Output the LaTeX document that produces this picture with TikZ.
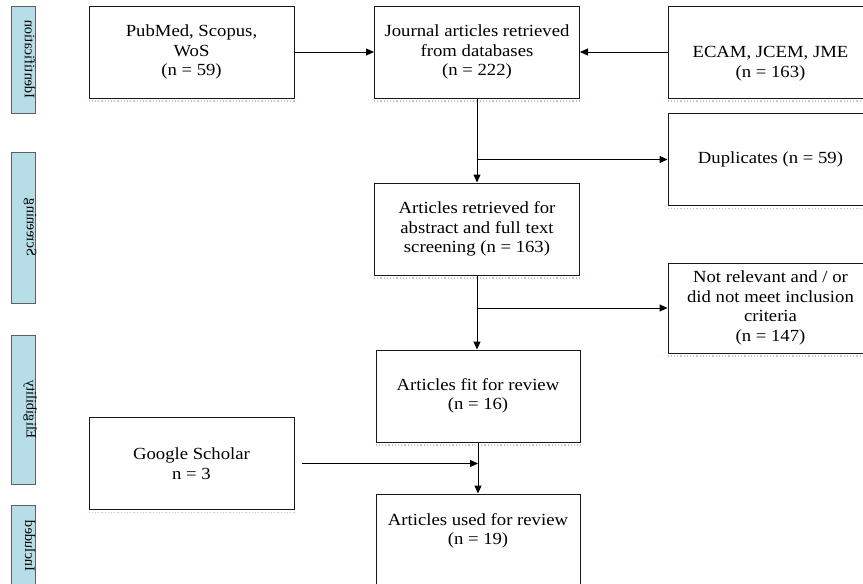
\documentclass[tikz,border=0pt]{standalone}
\usepackage{fontspec}
\setmainfont[FakeStretch=1.1]{Liberation Serif}
\newfontfamily\barfont{Liberation Serif}
\usetikzlibrary{arrows.meta}
\definecolor{barblue}{RGB}{183,222,232}
\definecolor{bargray}{RGB}{95,95,95}
\definecolor{shadowblue}{RGB}{175,205,235}
\begin{document}
\begin{tikzpicture}[x=1pt,y=-1pt,
  box/.style={draw=black!90, line width=1pt, fill=white, minimum width=205pt, minimum height=92pt, align=center, inner sep=2pt, font=\fontsize{17}{19.5}\selectfont},
  bar/.style={draw=bargray, line width=1pt, fill=barblue, minimum width=24pt, inner sep=0pt},
  bartext/.style={xscale=-1, rotate=90, font=\barfont\fontsize{14.5}{16}\selectfont, inner sep=0pt},
  conn/.style={line width=1pt},
  arr/.style={conn, -{Triangle[length=8pt,width=7pt]}},
  shadowline/.style={shadowblue, line width=1.2pt, dotted}
]
\useasboundingbox (0,0) rectangle (863,584);

% stage bars
\node[bar, minimum height=107pt] (b1) at (23,59.5) {};
\node[bar, minimum height=151pt] (b2) at (23,227.5) {};
\node[bar, minimum height=149pt] (b3) at (23,409.5) {};
\node[bar, minimum height=95pt] (b4) at (23,552.5) {};
\node[bartext] (t1) at (30,59.5) {Identification};
\node[bartext] (t2) at (30,227.5) {Screening};
\node[bartext] (t3) at (30,409.5) {Eligibility};
\node[bartext] (t4) at (30,546) {Included};

% boxes
\node[box] (pub) at (191.5,52) {PubMed, Scopus,\\WoS\\(n = 59)};
\node[box] (jour) at (477,52) {Journal articles retrieved\\from databases\\(n = 222)};
\node[box] (ecam) at (770.5,52) {\rule{0pt}{35pt}ECAM, JCEM, JME\\(n = 163)};
\node[box] (dup) at (770.5,159.5) {Duplicates (n = 59)};
\node[box] (scr) at (477,229) {Articles retrieved for\\abstract and full text\\screening (n = 163)};
\node[box, minimum height=90pt] (nrel) at (770.5,308) {Not relevant and / or\\did not meet inclusion\\criteria\\(n = 147)};
\node[box, minimum width=204pt] (fit) at (478,396) {Articles fit for review\\(n = 16)};
\node[box] (gs) at (191.5,463.5) {Google Scholar\\n = 3};
\node[box, minimum width=204pt] (used) at (478,540) {Articles used for review\\(n = 19)\rule[-22pt]{0pt}{0pt}};

% faint shadows
\foreach \n in {pub,jour,ecam,dup,scr,nrel,fit,gs}
  \draw[shadowline] ([yshift=-2.5pt]\n.south west) -- ([yshift=-2.5pt]\n.south east);

% connectors
\draw[arr] (pub.east) -- (jour.west);
\draw[arr] (ecam.west) -- (jour.east);
\coordinate (j1) at (jour.south |- dup.west);
\draw[arr] (jour.south) -- (scr.north);
\draw[arr] (j1) -- (dup.west);
\coordinate (s1) at (scr.south |- nrel.west);
\draw[arr] (scr.south) -- (scr.south |- fit.north);
\draw[arr] (s1) -- (nrel.west);
\draw[arr] (fit.south) -- (used.north);
\coordinate (g1) at ([xshift=7pt]gs.east);
\draw[arr] (g1) -- (fit.south |- g1);
\end{tikzpicture}
\end{document}
